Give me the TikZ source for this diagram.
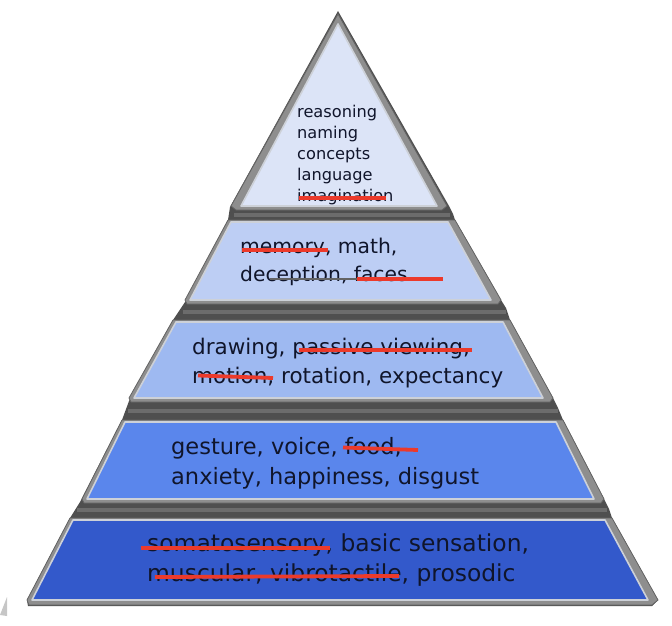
\documentclass[tikz,border=0pt]{standalone}
\usepackage{fontspec}
\setmainfont{DejaVu Sans}
\definecolor{band}{HTML}{4F4F4F}
\definecolor{bandmid}{HTML}{6C6C6C}
\definecolor{bev}{HTML}{8E8E8E}
\definecolor{bevd}{HTML}{636363}
\definecolor{rim}{HTML}{CDD1D8}
\definecolor{ink}{HTML}{10152B}
\definecolor{strikered}{HTML}{EC3A2B}
\definecolor{cT}{HTML}{DCE4F7}
\definecolor{cB}{HTML}{BDCEF4}
\definecolor{cC}{HTML}{9EB9F1}
\definecolor{cD}{HTML}{5A86EC}
\definecolor{cE}{HTML}{3359CB}
\begin{document}
\begin{tikzpicture}[x=1pt,y=-1pt,
  bandfill/.style={fill=band},
  bandline/.style={draw=bandmid,line width=4},
  bevelbox/.style={fill=bev,draw=bevd,line width=0.8,line join=round},
  facebox/.style={draw=rim,line width=1.6,line join=round},
  txt/.style={anchor=base west,inner sep=0,text=ink},
  strike/.style={draw=strikered,line width=3.8},
  graystrike/.style={draw=bevd,line width=2}]
\useasboundingbox (0,0) rectangle (672,626);
% small gray artifact bottom left
\fill[gray!45] (0,615) -- (7,597) -- (7,616) -- cycle;
% silhouette (dark bands)
\path[bandfill] (338,11) -- (449,206) -- (453,214) -- (455,220) -- (501,300) -- (506,308) -- (510,320)
  -- (553,398) -- (558,408) -- (563,420) -- (604,499) -- (609,509) -- (612,518) -- (658,600) -- (652,606)
  -- (28,606) -- (27,600) -- (70,518) -- (80,502) -- (122,420) -- (129,401) -- (173,320) -- (185,302)
  -- (228,220) -- (230,207) -- cycle;
% band middle highlights
\draw[bandline] (234,215) -- (450,215);
\draw[bandline] (183,312) -- (506,312);
\draw[bandline] (128,411) -- (558,411);
\draw[bandline] (77,510) -- (607,510);
% bevels
\path[bevelbox] (338,14) -- (447,206) -- (442,210) -- (236,210) -- (231,206) -- cycle;
\path[bevelbox] (228,220) -- (455,220) -- (501,300) -- (498,304) -- (187,304) -- (185,300) -- cycle;
\path[bevelbox] (173,320) -- (510,320) -- (553,398) -- (550,402) -- (131,402) -- (129,398) -- cycle;
\path[bevelbox] (122,420) -- (563,420) -- (604,499) -- (601,503) -- (84,503) -- (82,499) -- cycle;
\path[bevelbox] (70,518) -- (612,518) -- (658,600) -- (652,605) -- (29,605) -- (27,600) -- cycle;
% faces
\path[facebox,fill=cT] (338,24) -- (437,206) -- (241,206) -- cycle;
\path[facebox,fill=cB] (231,222) -- (448,222) -- (491,300) -- (190,300) -- cycle;
\path[facebox,fill=cC] (176,322) -- (503,322) -- (543,398) -- (134,398) -- cycle;
\path[facebox,fill=cD] (125,422) -- (556,422) -- (594,499) -- (87,499) -- cycle;
\path[facebox,fill=cE] (73,520) -- (605,520) -- (648,600) -- (32,600) -- cycle;
% texts
\begin{scope}[every node/.append style={font=\fontsize{16.2}{20}\selectfont}]
\node[txt] (a1) at (297,117) {reasoning};
\node[txt] (a2) at (297,138) {naming};
\node[txt] (a3) at (297,159) {concepts};
\node[txt] (a4) at (297,180) {language};
\node[txt] (a5) at (297,201) {imagination};
\end{scope}
\node[txt,font=\fontsize{20.3}{24}\selectfont] (b1) at (240,253) {memory, math,};
\node[txt,font=\fontsize{20.3}{24}\selectfont] (b2) at (240,281) {deception, faces};
\node[txt,font=\fontsize{21.5}{26}\selectfont] (c1) at (192,354) {drawing, passive viewing,};
\node[txt,font=\fontsize{21.5}{26}\selectfont] (c2) at (192,383) {motion, rotation, expectancy};
\node[txt,font=\fontsize{22.5}{27}\selectfont] (d1) at (171,454) {gesture, voice, food,};
\node[txt,font=\fontsize{22.5}{27}\selectfont] (d2) at (171,484) {anxiety, happiness, disgust};
\node[txt,font=\fontsize{23.4}{28}\selectfont] (e1) at (147,551) {somatosensory, basic sensation,};
\node[txt,font=\fontsize{23.4}{28}\selectfont] (e2) at (147,581) {muscular, vibrotactile, prosodic};
% strikes
\draw[strike] (299,198) -- (386,198);
\draw[strike] (242,250) -- (328,250);
\draw[graystrike] (270,279) -- (357,279);
\draw[strike] (357,279) -- (443,279);
\draw[strike] (299,350) -- (472,350);
\draw[strike] (198,375.5) -- (273,378);
\draw[strike] (343,447.5) -- (418,450);
\draw[strike] (141,548) -- (330,548);
\draw[strike] (155,577) -- (399,576);
\end{tikzpicture}
\end{document}
